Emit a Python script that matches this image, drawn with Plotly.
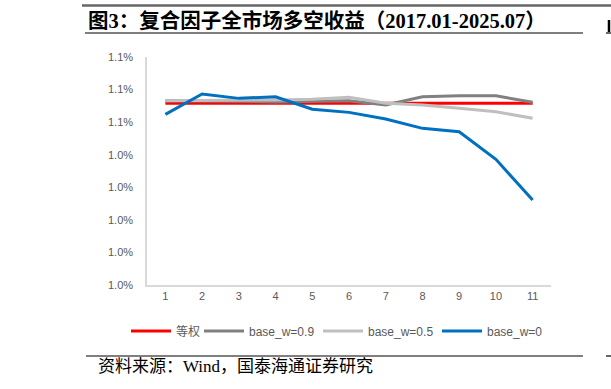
import plotly.graph_objects as go

groups = ["1", "2", "3", "4", "5", "6", "7", "8", "9", "10", "11"]
equal_w = [0.010716] * 11
base_w09 = [0.010732, 0.010732, 0.010728, 0.010724, 0.010726, 0.010732, 0.010705, 0.010756, 0.010762, 0.010762, 0.010722]
base_w05 = [0.010732, 0.010732, 0.010736, 0.010736, 0.010740, 0.010753, 0.010716, 0.010705, 0.010685, 0.010664, 0.010624]
base_w0 = [0.010648, 0.010773, 0.010746, 0.010756, 0.010679, 0.010660, 0.010619, 0.010562, 0.010541, 0.010372, 0.010122]
series_names = ["等权", "base_w=0.9", "base_w=0.5", "base_w=0"]
series_colors = ["#FF0000", "#808080", "#BFBFBF", "#0070C0"]
series_legends = ["legend", "legend2", "legend3", "legend4"]

W, H = 611, 389
L, R, T, B = 147, 60, 57, 104
PW, PH = W - L - R, H - T - B

def px(x):
    return (x - L) / PW

def py(y):
    return (H - B - y) / PH

fig = go.Figure()
for name, vals, col, lg in zip(series_names, [equal_w, base_w09, base_w05, base_w0], series_colors, series_legends):
    fig.add_trace(go.Scatter(x=groups, y=vals, mode="lines", name=name, legend=lg,
                             line=dict(color=col, width=3)))

shapes = [
    dict(type="line", xref="paper", yref="paper", x0=px(82), x1=px(611), y0=py(5.5), y1=py(5.5),
         line=dict(color="#666666", width=2.5)),
    dict(type="line", xref="paper", yref="paper", x0=px(85), x1=px(583), y0=py(33), y1=py(33),
         line=dict(color="#000000", width=1.2)),
    dict(type="line", xref="paper", yref="paper", x0=px(86), x1=px(583), y0=py(356), y1=py(356),
         line=dict(color="#000000", width=1.2)),
    dict(type="line", xref="paper", yref="paper", x0=px(606), x1=px(611), y0=py(356), y1=py(356),
         line=dict(color="#000000", width=1.2)),
    dict(type="line", xref="paper", yref="paper", x0=px(606), x1=px(611), y0=py(33), y1=py(33),
         line=dict(color="#000000", width=1.2)),
    dict(type="line", xref="paper", yref="paper", x0=px(609), x1=px(609), y0=py(20), y1=py(32),
         line=dict(color="#000000", width=2.5)),
]

annotations = [
    dict(text="<b>图3：复合因子全市场多空收益（2017.01-2025.07）</b>", xref="paper", yref="paper",
         x=px(86), y=py(20), xanchor="left", yanchor="middle", showarrow=False,
         font=dict(family="Liberation Serif, Noto Sans CJK SC", size=20.5, color="#000000")),
    dict(text="资料来源：Wind，国泰海通证券研究", xref="paper", yref="paper",
         x=px(96), y=py(366), xanchor="left", yanchor="middle", showarrow=False,
         font=dict(family="Liberation Serif, Noto Sans CJK SC", size=17, color="#000000")),
]

legend_font = dict(family="Liberation Sans, Noto Sans CJK SC", size=12, color="#595959")

def legend_at(xpix):
    return dict(orientation="h", x=px(xpix), y=py(331), xanchor="left", yanchor="middle",
                font=legend_font, itemwidth=40, tracegroupgap=0, bgcolor="rgba(0,0,0,0)")

fig.update_layout(
    width=W, height=H,
    margin=dict(l=L, r=R, t=T, b=B, pad=0),
    paper_bgcolor="white", plot_bgcolor="white",
    showlegend=True,
    legend=legend_at(126),
    legend2=legend_at(199),
    legend3=legend_at(318),
    legend4=legend_at(437),
    shapes=shapes, annotations=annotations,
    xaxis=dict(type="category", range=[-0.5, 10.5], showgrid=False, zeroline=False, showline=True,
               linecolor="#D9D9D9", linewidth=1.5, ticks="",
               tickfont=dict(family="Liberation Sans", size=11, color="#595959")),
    yaxis=dict(range=[0.0096, 0.0110], tick0=0.0096, dtick=0.0002, tickformat=".1%",
               showgrid=False, zeroline=False, showline=True, linecolor="#D9D9D9", linewidth=1.5,
               ticks="", ticklabelstandoff=10,
               tickfont=dict(family="Liberation Sans", size=11, color="#595959")),
)

fig.write_html("out.html", config={"displayModeBar": False},
               post_script="document.body.style.margin='0px';")
